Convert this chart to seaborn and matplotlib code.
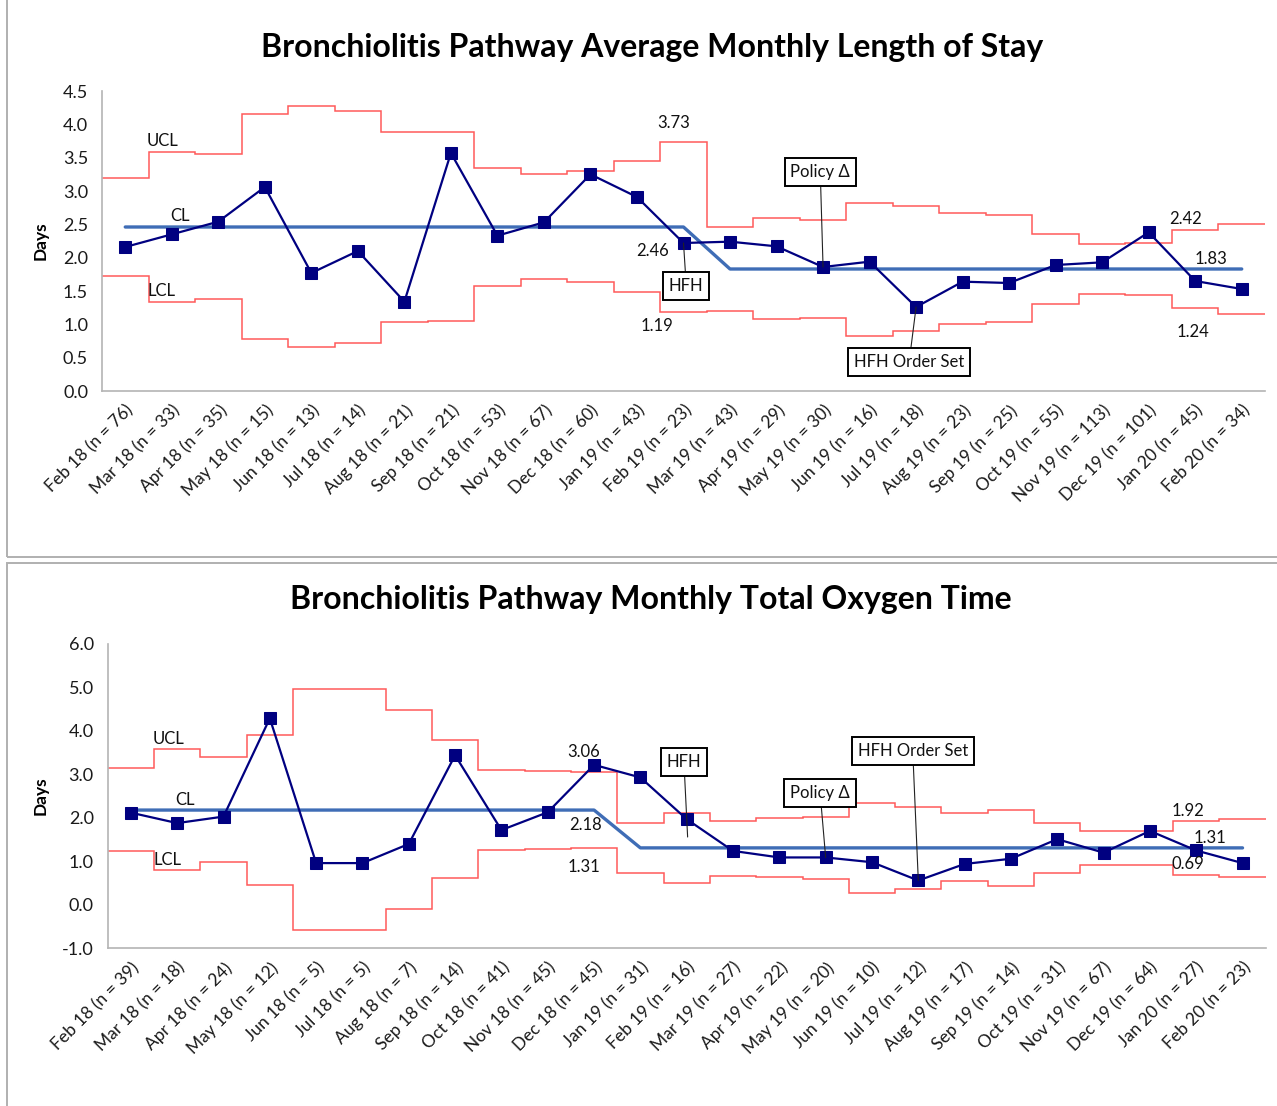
import numpy as np
import pandas as pd
import matplotlib
matplotlib.use("Agg")
import matplotlib.pyplot as plt
from matplotlib.patches import Rectangle
import seaborn as sns

# months shared by both charts
months = ["Feb 18", "Mar 18", "Apr 18", "May 18", "Jun 18", "Jul 18", "Aug 18",
          "Sep 18", "Oct 18", "Nov 18", "Dec 18", "Jan 19", "Feb 19", "Mar 19",
          "Apr 19", "May 19", "Jun 19", "Jul 19", "Aug 19", "Sep 19", "Oct 19",
          "Nov 19", "Dec 19", "Jan 20", "Feb 20"]

# length of stay chart
los_n = [76, 33, 35, 15, 13, 14, 21, 21, 53, 67, 60, 43, 23, 43, 29, 30, 16, 18,
         23, 25, 55, 113, 101, 45, 34]
los_days = [2.16, 2.35, 2.54, 3.06, 1.77, 2.10, 1.34, 3.57, 2.33, 2.53, 3.25, 2.91,
            2.22, 2.24, 2.17, 1.86, 1.94, 1.26, 1.64, 1.62, 1.89, 1.93, 2.38, 1.65, 1.53]
los_cl = [2.46] * 13 + [1.83] * 12
los_ucl = [3.20, 3.59, 3.56, 4.16, 4.28, 4.20, 3.89, 3.89, 3.35, 3.25, 3.30, 3.45,
           3.73, 2.46, 2.59, 2.57, 2.82, 2.78, 2.67, 2.64, 2.36, 2.21, 2.22, 2.42, 2.51]
los_lcl = [1.73, 1.34, 1.38, 0.78, 0.66, 0.72, 1.04, 1.05, 1.58, 1.68, 1.64, 1.49,
           1.19, 1.20, 1.08, 1.10, 0.83, 0.90, 1.01, 1.04, 1.30, 1.46, 1.44, 1.24, 1.15]

# oxygen time chart
o2_n = [39, 18, 24, 12, 5, 5, 7, 14, 41, 45, 45, 31, 16, 27, 22, 20, 10, 12, 17, 14,
        31, 67, 64, 27, 23]
o2_days = [2.12, 1.88, 2.03, 4.29, 0.96, 0.96, 1.40, 3.44, 1.72, 2.13, 3.22, 2.93,
           1.97, 1.24, 1.09, 1.09, 0.98, 0.56, 0.94, 1.06, 1.51, 1.20, 1.70, 1.25, 0.96]
o2_cl = [2.18] * 11 + [1.31] * 14
o2_ucl = [3.14, 3.59, 3.39, 3.91, 4.97, 4.97, 4.48, 3.79, 3.10, 3.07, 3.06, 1.89,
          2.12, 1.93, 1.99, 2.03, 2.35, 2.26, 2.11, 2.17, 1.89, 1.70, 1.70, 1.92, 1.98]
o2_lcl = [1.24, 0.80, 0.98, 0.46, -0.57, -0.57, -0.10, 0.61, 1.26, 1.29, 1.31, 0.74,
          0.50, 0.67, 0.63, 0.59, 0.27, 0.36, 0.54, 0.44, 0.74, 0.91, 0.91, 0.69, 0.65]

sns.set_style("white")
plt.rcParams['font.family'] = ['Lato', 'DejaVu Sans']
plt.rcParams['text.color'] = '#111111'

NAVY = '#000080'
CLBLUE = '#3F6DB6'
RED = '#FF5A5A'
GREY = '#b4b4b4'
TXT = '#1a1a1a'

fig = plt.figure(figsize=(12.77, 11.06), dpi=100)

# grey panel frames (right side runs off the picture)
fig.patches.append(Rectangle((7 / 1277, 1 - 557 / 1106), 1.1, 0.6, transform=fig.transFigure,
                             fill=False, ec='#b0b0b0', lw=1.4))
fig.patches.append(Rectangle((7 / 1277, -0.1), 1.1, 0.1 + (1106 - 563) / 1106,
                             transform=fig.transFigure, fill=False, ec='#b0b0b0', lw=1.4))

ax1 = fig.add_axes([102 / 1277, 1 - 391 / 1106, 1163 / 1277, 300 / 1106])
ax2 = fig.add_axes([107.7 / 1277, 1 - 948.3 / 1106, 1158 / 1277, 304.3 / 1106])


def draw_chart(ax, days, cl, ucl, lcl, n, ylim, ystep):
    x = np.arange(len(months))
    df = pd.DataFrame({'x': x, 'days': days, 'cl': cl})
    edges = np.arange(len(months) + 1) - 0.5
    ax.stairs(ucl, edges, color=RED, lw=1.1, baseline=None)
    ax.stairs(lcl, edges, color=RED, lw=1.1, baseline=None)
    sns.lineplot(data=df, x='x', y='cl', ax=ax, color=CLBLUE, lw=2.4)
    sns.lineplot(data=df, x='x', y='days', ax=ax, color=NAVY, lw=1.6, marker='s',
                 markersize=8.5, markeredgecolor=NAVY)
    ax.set_xlim(-0.5, len(months) - 0.5)
    ax.set_ylim(*ylim)
    ax.set_yticks(np.arange(ylim[0], ylim[1] + 0.01, ystep))
    ax.yaxis.set_major_formatter(matplotlib.ticker.FormatStrFormatter('%.1f'))
    ax.set_xticks(x)
    ax.set_xticklabels([f"{m} (n = {k})" for m, k in zip(months, n)], rotation=45,
                       ha='right', rotation_mode='anchor', fontsize=12.5, color=TXT)
    ax.set_xticks(edges, minor=True)
    ax.tick_params(axis='x', which='major', length=0, pad=8)
    ax.tick_params(axis='x', which='minor', length=6, color=GREY, direction='out')
    ax.tick_params(axis='y', length=6, color=GREY, direction='out', labelsize=13,
                   labelcolor=TXT, pad=4)
    for s in ['top', 'right']:
        ax.spines[s].set_visible(False)
    for s in ['left', 'bottom']:
        ax.spines[s].set_color(GREY)
        ax.spines[s].set_linewidth(1.2)
    ax.set_xlabel('')
    ax.set_ylabel('Days', fontsize=12.5, fontweight='bold', labelpad=10, color='black')


def box_note(ax, text, xy, xytext):
    ax.annotate(text, xy=xy, xytext=xytext, ha='center', va='center', fontsize=12,
                arrowprops=dict(arrowstyle='-', color='#222222', lw=0.8, shrinkA=0, shrinkB=0),
                bbox=dict(boxstyle='square,pad=0.35', fc='white', ec='black', lw=1.4))


draw_chart(ax1, los_days, los_cl, los_ucl, los_lcl, los_n, (0, 4.5), 0.5)
draw_chart(ax2, o2_days, o2_cl, o2_ucl, o2_lcl, o2_n, (-1, 6), 1.0)

fs = 12
# top chart labels
ax1.text(0.47, 3.75, 'UCL', fontsize=fs, va='center')
ax1.text(0.96, 2.63, 'CL', fontsize=fs, va='center')
ax1.text(0.47, 1.50, 'LCL', fontsize=fs, va='center')
ax1.text(11.78, 4.02, f"{los_ucl[12]:.2f}", fontsize=fs, ha='center', va='center')
ax1.text(11.33, 2.10, f"{los_cl[12]:.2f}", fontsize=fs, ha='center', va='center')
ax1.text(11.44, 0.975, f"{los_lcl[12]:.2f}", fontsize=fs, ha='center', va='center')
ax1.text(22.8, 2.58, f"{los_ucl[23]:.2f}", fontsize=fs, ha='center', va='center')
ax1.text(23.33, 1.98, f"{los_cl[23]:.2f}", fontsize=fs, ha='center', va='center')
ax1.text(22.96, 0.885, f"{los_lcl[23]:.2f}", fontsize=fs, ha='center', va='center')
box_note(ax1, 'Policy Δ', (15, los_days[15]), (14.94, 3.285))
box_note(ax1, 'HFH', (12, los_days[12]), (12.06, 1.575))
box_note(ax1, 'HFH Order Set', (17, los_days[17]), (16.85, 0.435))

# bottom chart labels
ax2.text(0.48, 3.82, 'UCL', fontsize=fs, va='center')
ax2.text(0.95, 2.41, 'CL', fontsize=fs, va='center')
ax2.text(0.48, 1.03, 'LCL', fontsize=fs, va='center')
ax2.text(9.78, 3.52, f"{o2_ucl[10]:.2f}", fontsize=fs, ha='center', va='center')
ax2.text(9.82, 1.84, f"{o2_cl[10]:.2f}", fontsize=fs, ha='center', va='center')
ax2.text(9.78, 0.87, f"{o2_lcl[10]:.2f}", fontsize=fs, ha='center', va='center')
ax2.text(22.82, 2.16, f"{o2_ucl[23]:.2f}", fontsize=fs, ha='center', va='center')
ax2.text(23.3, 1.54, f"{o2_cl[23]:.2f}", fontsize=fs, ha='center', va='center')
ax2.text(22.82, 0.94, f"{o2_lcl[23]:.2f}", fontsize=fs, ha='center', va='center')
box_note(ax2, 'HFH', (12.02, 1.56), (11.94, 3.29))
box_note(ax2, 'Policy Δ', (15, o2_days[15]), (14.88, 2.58))
box_note(ax2, 'HFH Order Set', (17, o2_days[17]), (16.88, 3.54))

fig.text(652 / 1277, 1 - 47 / 1106, 'Bronchiolitis Pathway Average Monthly Length of Stay',
         ha='center', va='center', fontsize=23, fontweight='bold', color='black')
fig.text(651 / 1277, 1 - 600 / 1106, 'Bronchiolitis Pathway Monthly Total Oxygen Time',
         ha='center', va='center', fontsize=23, fontweight='bold', color='black')

fig.savefig('out.png', dpi=100)
